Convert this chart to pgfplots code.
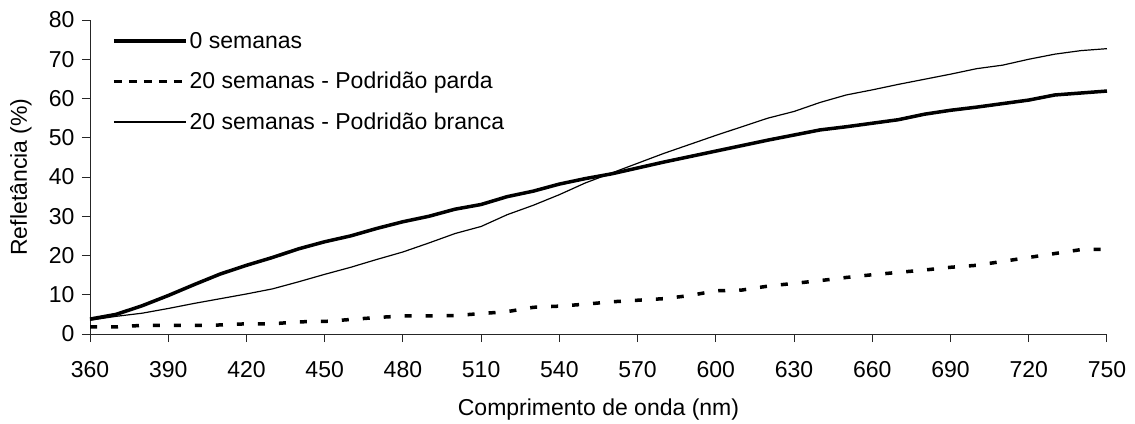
\documentclass[border=0pt]{standalone}
\usepackage{fontspec}
\setmainfont{Liberation Sans}
\usepackage{pgfplots}
\pgfplotsset{compat=1.18}
\usepackage{pgfplotstable}
\pgfplotstableread{
nm zero parda branca
360 3.8 1.8 3.5
370 5.0 1.8 4.5
380 7.2 2.2 5.3
390 9.8 2.2 6.5
400 12.6 2.2 7.8
410 15.3 2.3 9.0
420 17.5 2.6 10.2
430 19.5 2.6 11.5
440 21.7 3.1 13.3
450 23.5 3.2 15.2
460 25.0 3.7 17.0
470 26.9 4.2 19.0
480 28.6 4.6 20.9
490 30.0 4.6 23.2
500 31.8 4.7 25.6
510 33.0 5.2 27.4
520 35.0 5.7 30.4
530 36.4 6.8 32.8
540 38.2 7.1 35.5
550 39.6 7.6 38.5
560 40.8 8.2 41.0
570 42.3 8.6 43.5
580 43.8 9.0 46.0
590 45.2 9.8 48.3
600 46.6 11.0 50.6
610 48.0 11.2 52.8
620 49.4 12.2 55.0
630 50.7 12.9 56.7
640 52.0 13.6 59.0
650 52.8 14.4 60.9
660 53.7 15.1 62.2
670 54.6 15.7 63.6
680 56.0 16.3 64.9
690 57.0 17.0 66.2
700 57.8 17.5 67.6
710 58.7 18.5 68.5
720 59.6 19.5 70.0
730 60.9 20.5 71.3
740 61.4 21.5 72.2
750 61.9 21.6 72.7
}\datatable
\begin{document}
\begin{tikzpicture}
\path[use as bounding box] (0pt,0pt) rectangle (1135pt,423pt);
\begin{axis}[
  at={(90pt,89pt)}, anchor=south west,
  scale only axis, width=1017pt, height=314pt,
  xmin=360, xmax=750, ymin=0, ymax=80,
  xtick={360,390,...,750}, ytick={0,10,...,80},
  axis x line=bottom, axis y line=left,
  axis line style={-, line width=1pt, black!85},
  tick style={line width=1pt, black!85},
  tick align=outside, major tick length=8pt,
  font=\fontsize{23pt}{27pt}\selectfont,
  /pgf/number format/assume math mode=true,
  /pgf/number format/set thousands separator={},
  xticklabel style={yshift=-16pt},
  yticklabel style={xshift=-4pt},
  xlabel={Comprimento de onda (nm)},
  ylabel={Refletância (\%)},
  every axis x label/.style={at={(axis description cs:0.5,0)}, yshift=-76pt, anchor=center},
  every axis y label/.style={at={(axis description cs:0,0.5)}, xshift=-69pt, rotate=90, anchor=center},
  legend image code/.code={\draw[#1] (0pt,0pt) -- (72pt,0pt);},
  legend style={draw=none, fill=none, at={(22pt,304pt)}, anchor=north west,
    font=\fontsize{23pt}{27pt}\selectfont, row sep=18.5pt, inner sep=0pt,
    /tikz/every even column/.append style={column sep=0pt}},
  legend cell align=left,
  clip=false,
]
\addplot[black, line width=3.5pt, line join=round] table[x=nm, y=zero] {\datatable};
\addlegendentry{0 semanas}
\addlegendimage{black, line width=3.5pt, dash pattern=on 8pt off 7pt}
\addlegendentry{20 semanas - Podridão parda}
\addplot[black, line width=1.2pt, line join=round] table[x=nm, y=branca] {\datatable};
\addlegendentry{20 semanas - Podridão branca}
\addplot[black, line width=3.5pt, dash pattern=on 7pt off 14pt, forget plot] table[x=nm, y=parda] {\datatable};
\end{axis}
\end{tikzpicture}
\end{document}
